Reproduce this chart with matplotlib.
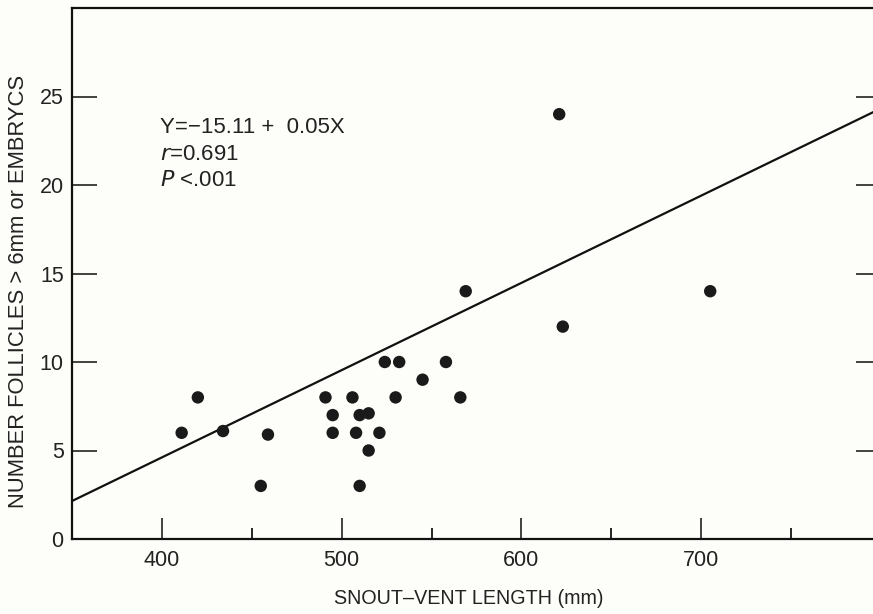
import matplotlib
matplotlib.use("Agg")
import matplotlib.pyplot as plt
import numpy as np

# Data
svl_mm = [411, 420, 434, 455, 459, 491, 495, 495, 506, 508, 510, 515, 515, 510,
          521, 524, 532, 530, 545, 558, 566, 569, 621, 623, 705]
follicles = [6, 8, 6.1, 3, 5.9, 8, 7, 6, 8, 6, 7, 7.1, 5, 3,
             6, 10, 10, 8, 9, 10, 8, 14, 24, 12, 14]

intercept = -15.11
slope = 0.0493
line_x = [350, 800]

x_major = [400, 500, 600, 700]
x_minor = [450, 550, 650, 750]
y_major = [0, 5, 10, 15, 20, 25]

plt.rcParams['font.family'] = ['Liberation Sans', 'DejaVu Sans']

fig = plt.figure(figsize=(8.73, 6.14), dpi=100)
bg = '#fdfdf9'
fig.patch.set_facecolor(bg)
ax = fig.add_axes([72/873, 75/614, 809/873, 531/614])
ax.set_facecolor(bg)

ax.set_xlim(350, 800)
ax.set_ylim(0, 30)

lx = np.array(line_x, dtype=float)
ax.plot(lx, intercept + slope * lx, color='#111111', lw=1.6, zorder=2)
ax.scatter(svl_mm, follicles, s=80, color='#1a1a1a', edgecolors='none', zorder=3)

ax.set_xticks(x_major)
ax.set_xticks(x_minor, minor=True)
ax.set_yticks(y_major)
ax.tick_params(axis='x', which='major', direction='in', length=15, width=1.2,
               labelsize=15.5, pad=8, colors='#222222')
ax.tick_params(axis='x', which='minor', direction='in', length=8, width=1.2)
ax.tick_params(axis='y', which='major', direction='in', length=18, width=1.2,
               labelsize=15.5, pad=6, right=True, colors='#222222')
for sp in ax.spines.values():
    sp.set_linewidth(1.6)
    sp.set_color('#111111')

ax.set_xlabel('SNOUT\u2013VENT LENGTH (mm)', fontsize=14.2, color='#222222')
ax.xaxis.set_label_coords((469 - 72) / 809, -0.095)
ax.set_ylabel('NUMBER FOLLICLES > 6mm or EMBRYCS', fontsize=15.8, color='#222222')
ax.yaxis.set_label_coords(-0.053, 0.467)

ax.text(399, 23.24, 'Y=\u221215.11 +  0.05X', fontsize=16, color='#222222', va='center')
ax.text(399, 21.75, '$r$=0.691', fontsize=16, color='#222222', va='center')
ax.text(399, 20.28, '$P$ <.001', fontsize=16, color='#222222', va='center')

fig.savefig('out.png', dpi=100, facecolor=bg)
